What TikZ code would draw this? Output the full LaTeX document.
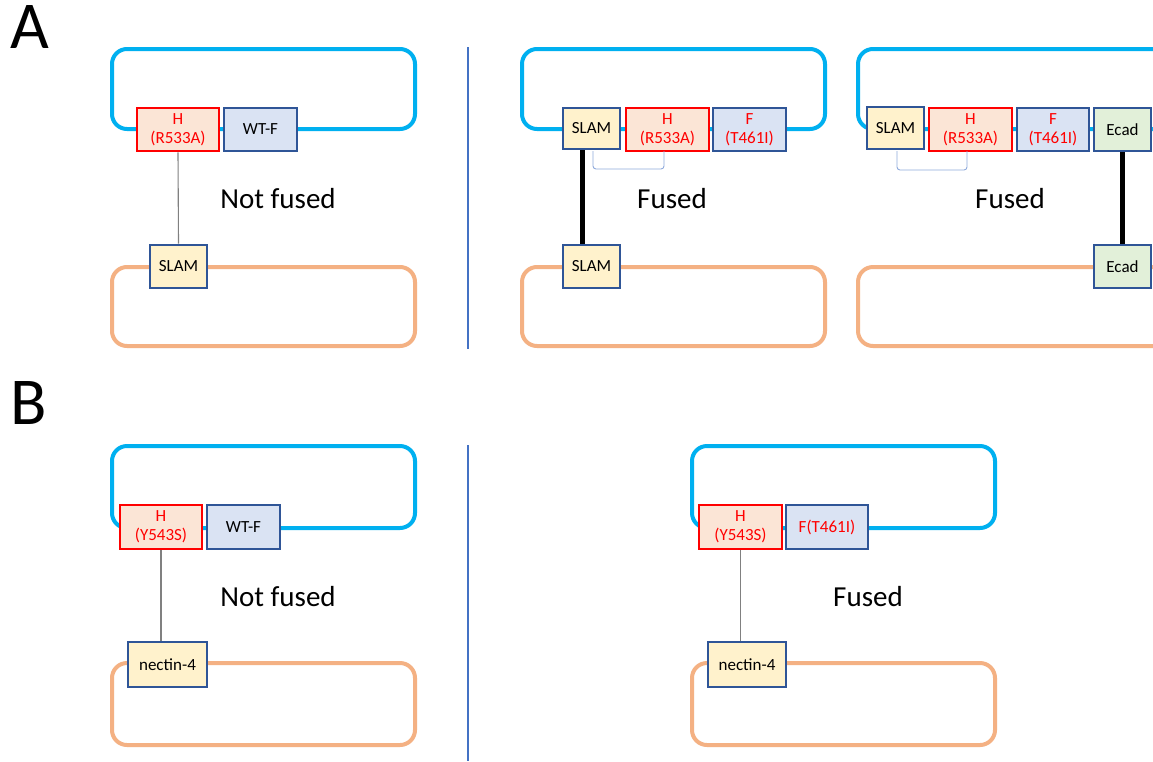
\documentclass[tikz,border=0pt]{standalone}
\usepackage{fontspec}
\setmainfont{Carlito}
\definecolor{cellblue}{HTML}{00B0F0}
\definecolor{cellorange}{HTML}{F4B183}
\definecolor{boxblue}{HTML}{2F5597}
\definecolor{hfill}{HTML}{FBE5D6}
\definecolor{ffill}{HTML}{DAE3F3}
\definecolor{sfill}{HTML}{FFF2CC}
\definecolor{efill}{HTML}{E2F0D9}
\definecolor{divblue}{HTML}{4472C4}
\definecolor{brk}{HTML}{8FAADC}
\definecolor{txtred}{HTML}{FF0000}
\tikzset{
  cellA/.style={draw=cellblue, line width=4pt, rounded corners=15pt},
  cellB/.style={draw=cellorange, line width=4pt, rounded corners=15pt},
  protbox/.style={rectangle, line width=2.6pt, inner sep=0pt, align=center,
    font=\fontsize{17}{19}\selectfont},
  hbox/.style={protbox, draw=txtred, fill=hfill, text=txtred},
  fbox/.style={protbox, draw=boxblue, fill=ffill},
  sbox/.style={protbox, draw=boxblue, fill=sfill},
  ebox/.style={protbox, draw=boxblue, fill=efill},
  weak/.style={draw=black!50, line width=1.1pt},
  strong/.style={draw=black, line width=5pt},
  bracketline/.style={draw=brk, line width=0.9pt, rounded corners=3pt},
  divider/.style={draw=divblue, line width=1.3pt},
  status/.style={font=\fontsize{29}{33}\selectfont},
  panel/.style={font=\fontsize{67}{70}\selectfont}
}
\begin{document}
\begin{tikzpicture}[x=1pt, y=-1pt]
\useasboundingbox (0,0) rectangle (1153,761);
\clip (0,0) rectangle (1153,761);
\fill[white] (0,0) rectangle (1153,761);

% panel labels
\node[panel] (labA) at (30,27) {A};
\node[panel] (labB) at (29,403) {B};

% dividers
\coordinate (d1t) at (468,47);
\coordinate (d1b) at (468,349);
\coordinate (d2t) at (468,445);
\coordinate (d2b) at (468,761);
\draw[divider] (d1t) -- (d1b);
\draw[divider] (d2t) -- (d2b);

% ===== A1 =====
\draw[cellA] (112,49) rectangle (415,129);
\draw[cellB] (112,267) rectangle (415,346);
\node[hbox, minimum width=82pt, minimum height=43pt] (a1h) at (178,129.5) {H\\(R533A)};
\node[fbox, minimum width=73pt, minimum height=43pt] (a1f) at (260.5,129.5) {WT-F};
\node[sbox, minimum width=57pt, minimum height=43pt] (a1s) at (178.5,266.5) {SLAM};
\draw[weak] (a1h.south) -- (a1s.north);
\node[status] (a1t) at (278,199) {Not fused};

% ===== A2 =====
\draw[cellA] (522,49) rectangle (825,129);
\draw[cellB] (522,267) rectangle (825,346);
\node[sbox, minimum width=57pt, minimum height=41pt] (a2s) at (591.5,128.5) {SLAM};
\node[hbox, minimum width=83pt, minimum height=43pt] (a2h) at (667.5,129.5) {H\\(R533A)};
\node[fbox, minimum width=73pt, minimum height=43pt, text=txtred] (a2f) at (749.5,129.5) {F\\(T461I)};
\node[sbox, minimum width=57pt, minimum height=43pt] (a2s2) at (591.5,266.5) {SLAM};
\coordinate (a2k) at (593,151);
\coordinate (a2m) at (664,151);
\draw[bracketline] (a2k) -- (593,169) -- (664,169) -- (a2m);
\draw[strong] (a2s.south -| 582,0) -- (a2s2.north -| 582,0);
\node[status] (a2t) at (672,199) {Fused};

% ===== A3 =====
\draw[cellA] (858,49) rectangle (1175,129);
\draw[cellB] (858,267) rectangle (1175,346);
\node[sbox, minimum width=57pt, minimum height=42pt] (a3s) at (895.5,128) {SLAM};
\node[hbox, minimum width=83pt, minimum height=43pt] (a3h) at (970.5,129.5) {H\\(R533A)};
\node[fbox, minimum width=72pt, minimum height=43pt, text=txtred] (a3f) at (1053,129.5) {F\\(T461I)};
\node[ebox, minimum width=57pt, minimum height=43pt] (a3e) at (1122.5,129.5) {Ecad};
\node[ebox, minimum width=57pt, minimum height=43pt] (a3e2) at (1122.5,266.5) {Ecad};
\coordinate (a3k) at (897,151);
\coordinate (a3m) at (967,151);
\draw[bracketline] (a3k) -- (897,170) -- (967,170) -- (a3m);
\draw[strong] (a3e.south) -- (a3e2.north);
\node[status] (a3t) at (1010,199) {Fused};

% ===== B1 =====
\draw[cellA] (112,446) rectangle (415,528);
\draw[cellB] (112,663) rectangle (415,745);
\node[hbox, minimum width=82pt, minimum height=44pt] (b1h) at (161,527) {H\\(Y543S)};
\node[fbox, minimum width=73pt, minimum height=44pt] (b1f) at (243.5,527) {WT-F};
\node[sbox, minimum width=79pt, minimum height=45pt] (b1n) at (167.5,664.5) {nectin-4};
\draw[weak] (b1h.south) -- (b1h.south |- b1n.north);
\node[status] (b1t) at (278,597) {Not fused};

% ===== B2 =====
\draw[cellA] (692,446) rectangle (995,528);
\draw[cellB] (692,663) rectangle (995,745);
\node[hbox, minimum width=83pt, minimum height=44pt] (b2h) at (740.5,527) {H\\(Y543S)};
\node[fbox, minimum width=82pt, minimum height=44pt, text=txtred] (b2f) at (827,527) {F(T461I)};
\node[sbox, minimum width=78pt, minimum height=45pt] (b2n) at (747,664.5) {nectin-4};
\draw[weak] (b2h.south) -- (b2h.south |- b2n.north);
\node[status] (b2t) at (868,597) {Fused};
\end{tikzpicture}
\end{document}
